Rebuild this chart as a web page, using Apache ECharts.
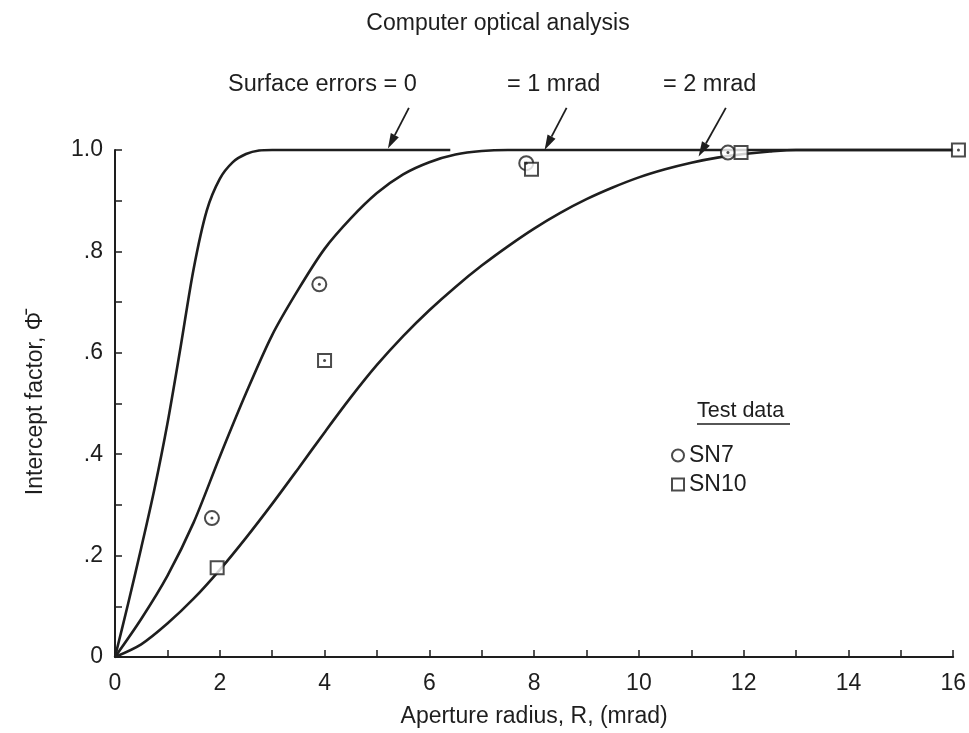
<!DOCTYPE html>
<html>
<head>
<meta charset="utf-8">
<script src="https://cdn.jsdelivr.net/npm/echarts@6/dist/echarts.min.js"></script>
<style>
  html, body { margin: 0; background: #fff; }
  #chart { width: 969px; height: 733px; }
</style>
</head>
<body>
<div id="chart"></div>
<script>
// computed curves, one per surface error
var curve0X = [0, 0.25, 0.5, 0.75, 1.0, 1.25, 1.5, 1.75, 2.0, 2.25, 2.5, 2.75, 3.0, 6.4];
var curve0Y = [0, 0.105, 0.215, 0.33, 0.46, 0.61, 0.765, 0.88, 0.943, 0.976, 0.992, 0.999, 1.0, 1.0];

var curve1X = [0, 0.5, 1.0, 1.5, 2.0, 2.5, 3.0, 3.5, 4.0, 4.5, 5.0, 5.5, 6.0, 6.5, 7.0, 7.5, 16];
var curve1Y = [0, 0.075, 0.16, 0.265, 0.395, 0.52, 0.635, 0.725, 0.805, 0.865, 0.915, 0.952, 0.976, 0.991, 0.998, 1.0, 1.0];

var curve2X = [0, 0.5, 1.0, 1.5, 2.0, 2.5, 3.0, 3.5, 4.0, 4.5, 5.0, 5.5, 6.0, 6.5, 7.0, 7.5, 8.0, 8.5, 9.0, 9.5, 10.0, 10.5, 11.0, 11.5, 12.0, 12.5, 13.0, 16];
var curve2Y = [0, 0.025, 0.066, 0.115, 0.172, 0.235, 0.302, 0.372, 0.443, 0.512, 0.576, 0.633, 0.684, 0.73, 0.772, 0.81, 0.845, 0.876, 0.903, 0.926, 0.946, 0.962, 0.975, 0.985, 0.992, 0.997, 1.0, 1.0];

// test data
var sn7X = [1.85, 3.9, 7.85, 11.7];
var sn7Y = [0.274, 0.735, 0.974, 0.995];
var sn10X = [1.95, 4.0, 7.95, 11.95, 16.1];
var sn10Y = [0.176, 0.585, 0.962, 0.995, 1.0];
var sn10Dotted = [1, 4]; // squares drawn with a centre dot

var curveNames = ['Surface errors = 0', '= 1 mrad', '= 2 mrad'];
// arrow from label down to the curve: [x0, y0, x1, y1] in data units
var arrows = [
  [5.61, 1.083, 5.21, 1.003],
  [8.62, 1.083, 8.20, 1.0],
  [11.66, 1.083, 11.14, 0.987]
];

var xTicks = [0, 2, 4, 6, 8, 10, 12, 14, 16];
var yTickLabels = { '0': '0', '0.2': '.2', '0.4': '.4', '0.6': '.6', '0.8': '.8', '1': '1.0' };

var ink = '#1e1e1e';
var font = 'Liberation Sans';

function zip(xs, ys) {
  return xs.map(function (x, i) { return [x, ys[i]]; });
}

var chart = echarts.init(document.getElementById('chart'));

function curveSeries(name, xs, ys) {
  return {
    name: name,
    type: 'line',
    data: zip(xs, ys),
    smooth: 0.3,
    symbol: 'none',
    clip: false,
    lineStyle: { color: ink, width: 2.6 },
    z: 2
  };
}

var sn10Dots = sn10Dotted.map(function (i) { return [sn10X[i], sn10Y[i]]; });

var option = {
  backgroundColor: '#fff',
  animation: false,
  textStyle: { fontFamily: font, color: ink },
  grid: { left: 115, right: 14, top: 150, bottom: 76 },
  legend: {
    data: ['SN7', 'SN10'],
    orient: 'vertical',
    left: 666,
    top: 439,
    itemWidth: 12,
    itemHeight: 12,
    itemGap: 6,
    textStyle: { fontSize: 23, color: ink, fontFamily: font }
  },
  xAxis: {
    type: 'value',
    min: 0,
    max: 16,
    interval: 2,
    name: 'Aperture radius, R, (mrad)',
    nameLocation: 'middle',
    nameGap: 48,
    nameTextStyle: { fontSize: 23, color: ink },
    axisLine: { lineStyle: { color: ink, width: 2 } },
    axisTick: { inside: true, length: 7, lineStyle: { color: ink, width: 1.5 } },
    minorTick: { show: true, splitNumber: 2, length: 7, lineStyle: { color: ink, width: 1.5 } },
    splitLine: { show: false },
    axisLabel: {
      fontSize: 23, color: ink, margin: 15,
      formatter: function (v) { return xTicks.indexOf(v) >= 0 ? String(v) : ''; }
    }
  },
  yAxis: {
    type: 'value',
    min: 0,
    max: 1,
    interval: 0.2,
    name: 'Intercept factor, \u03A6\u0304',
    nameLocation: 'middle',
    nameGap: 68,
    nameTextStyle: { fontSize: 23, color: ink },
    axisLine: { show: true, lineStyle: { color: ink, width: 2 } },
    axisTick: { show: true, inside: true, length: 7, lineStyle: { color: ink, width: 1.5 } },
    minorTick: { show: true, splitNumber: 2, length: 7, lineStyle: { color: ink, width: 1.5 } },
    splitLine: { show: false },
    axisLabel: {
      fontSize: 23, color: ink, margin: 12,
      formatter: function (v) {
        var k = String(Math.round(v * 10) / 10);
        return yTickLabels[k] !== undefined ? yTickLabels[k] : '';
      }
    }
  },
  series: [
    curveSeries(curveNames[0], curve0X, curve0Y),
    curveSeries(curveNames[1], curve1X, curve1Y),
    curveSeries(curveNames[2], curve2X, curve2Y),
    {
      name: 'SN7',
      type: 'scatter',
      data: zip(sn7X, sn7Y),
      symbol: 'emptyCircle',
      symbolSize: 14,
      clip: false,
      itemStyle: { color: ink, borderColor: ink, borderWidth: 1.6 },
      z: 4
    },
    {
      name: 'SN10',
      type: 'scatter',
      data: zip(sn10X, sn10Y),
      symbol: 'rect',
      symbolSize: 13,
      clip: false,
      itemStyle: { color: '#fff', borderColor: ink, borderWidth: 2 },
      z: 4
    },
    {
      name: 'dots',
      type: 'scatter',
      data: zip(sn7X, sn7Y).concat(sn10Dots),
      symbol: 'circle',
      symbolSize: 3,
      clip: false,
      itemStyle: { color: ink },
      z: 5
    }
  ]
};

chart.setOption(option);

// annotation text and arrows
function label(text, x, y, size, align) {
  return {
    type: 'text', x: x, y: y,
    style: { text: text, fontSize: size, fontFamily: font, fill: ink, align: align || 'left', verticalAlign: 'middle' }
  };
}

var graphics = [
  label('Computer optical analysis', 498, 24, 23, 'center'),
  label(curveNames[0], 228, 85, 23.5),
  label(curveNames[1], 507, 85, 23.5),
  label(curveNames[2], 663, 85, 23.5),
  label('Test data', 697, 411, 21.5),
  { type: 'line', shape: { x1: 697, y1: 424, x2: 790, y2: 424 },
    style: { stroke: ink, lineWidth: 1.5 } }
];

arrows.forEach(function (a) {
  var p0 = chart.convertToPixel({ gridIndex: 0 }, [a[0], a[1]]);
  var p1 = chart.convertToPixel({ gridIndex: 0 }, [a[2], a[3]]);
  var dx = p1[0] - p0[0], dy = p1[1] - p0[1];
  var len = Math.sqrt(dx * dx + dy * dy);
  var ux = dx / len, uy = dy / len;
  var hl = 15, hw = 4.5;
  var bx = p1[0] - ux * hl, by = p1[1] - uy * hl;
  graphics.push({
    type: 'line',
    shape: { x1: p0[0], y1: p0[1], x2: bx, y2: by },
    style: { stroke: ink, lineWidth: 1.8 }
  });
  graphics.push({
    type: 'polygon',
    shape: { points: [[p1[0], p1[1]], [bx - uy * hw, by + ux * hw], [bx + uy * hw, by - ux * hw]] },
    style: { fill: ink }
  });
});

chart.setOption({ graphic: graphics });
</script>
</body>
</html>
